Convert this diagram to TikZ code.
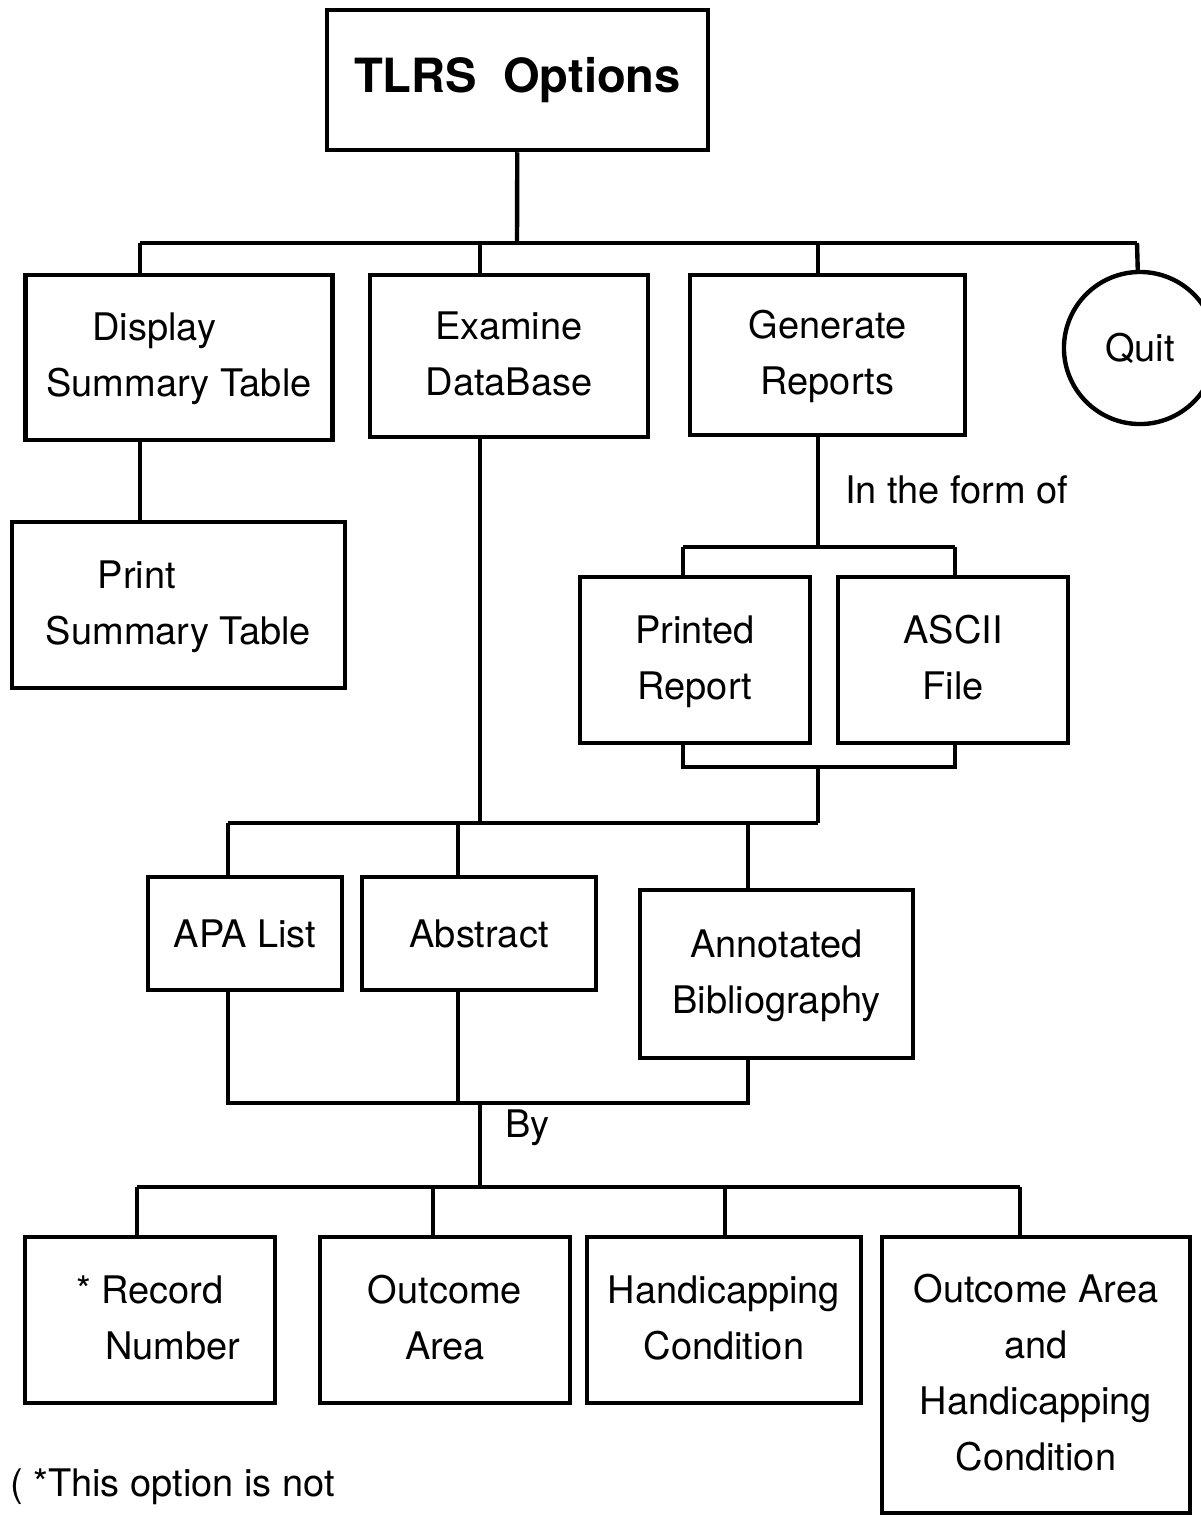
\documentclass[tikz,border=0pt]{standalone}
\usepackage{fontspec}
\setmainfont{TeX Gyre Heros}
\usetikzlibrary{positioning}
\newcommand{\optlines}[2]{%
    \begin{tabular}{c}
        #1\\
        #2
    \end{tabular}%
}
\newcommand{\Display}{\optlines{Display\hspace{1.3em}\mbox{}}{Summary Table}}
\newcommand{\Examine}{\optlines{Examine}{DataBase}}
\newcommand{\Generate}{\optlines{Generate}{Reports}}
\newcommand{\PrintTable}{\optlines{Print\hspace{2.2em}\mbox{}}{Summary Table}}
\newcommand{\Printed}{\optlines{Printed}{Report}}
\newcommand{\Ascii}{\optlines{ASCII}{File}}
\newcommand{\Annotated}{\optlines{Annotated}{Bibliography}}
\newcommand{\RecordNo}{\optlines{* Record}{\hspace{1.2em}Number}}
\newcommand{\Outcome}{\optlines{Outcome}{Area}}
\newcommand{\Handicap}{\optlines{Handicapping}{Condition}}
\newcommand{\Both}{%
    \begin{tabular}{c}
        Outcome Area\\
        and\\
        Handicapping\\
        Condition
    \end{tabular}%
}

\begin{document}
\begin{tikzpicture}[x=0.01cm, y=-0.01cm,
                    line width=1.25pt,
                    txt/.style={inner sep=0pt,
                        font=\fontsize{10.8}{15.9}\selectfont},
                    box/.style={txt, draw, rectangle}]

    \useasboundingbox (0,0) rectangle (1201,1517);

    % boxes
    \node[box, minimum width=3.81cm, minimum height=1.40cm,
          font=\bfseries\fontsize{13.4}{16}\selectfont] (title) at (517.5,80) {TLRS\hspace{0.55em}Options};
    \node[box, minimum width=3.02cm, minimum height=1.65cm] (disp) at (179,357.5) {\Display};
    \node[box, minimum width=2.78cm, minimum height=1.62cm] (exam) at (509,356) {\Examine};
    \node[box, minimum width=2.75cm, minimum height=1.60cm] (gen) at (827.5,355) {\Generate};
    \node[box, circle, minimum size=1.52cm] (quit) at (1140,348) {Quit};
    \node[box, minimum width=3.33cm, minimum height=1.66cm] (print) at (178.5,605) {\PrintTable};
    \node[box, minimum width=2.30cm, minimum height=1.66cm] (prep) at (695,660) {\Printed};
    \node[box, minimum width=2.30cm, minimum height=1.66cm] (ascii) at (953,660) {\Ascii};
    \node[box, minimum width=1.94cm, minimum height=1.13cm] (apa) at (245,933.5) {APA List};
    \node[box, minimum width=2.34cm, minimum height=1.13cm] (abs) at (479,933.5) {Abstract};
    \node[box, minimum width=2.73cm, minimum height=1.68cm] (annot) at (776.5,974) {\Annotated};
    \node[box, minimum width=2.50cm, minimum height=1.66cm] (rec) at (150,1320) {\RecordNo};
    \node[box, minimum width=2.50cm, minimum height=1.66cm] (oa) at (445,1320) {\Outcome};
    \node[box, minimum width=2.72cm, minimum height=1.66cm] (hc) at (724,1320) {\Handicap};
    \node[box, minimum width=3.08cm, minimum height=2.76cm] (oahc) at (1036,1375) {\Both};

    % labels
    \node[txt, anchor=west] (formlbl) at (843,490) {In the form of};
    \node[txt, anchor=west] (bylbl) at (503,1128) {By};
    \node[txt, anchor=west] (note) at (8,1487) {( *This option is not};

    % junctions
    \coordinate (j1) at (517,243);
    \coordinate (j1a) at (140,243);
    \coordinate (j1b) at (480,243);
    \coordinate (j1c) at (818,243);
    \coordinate (j1d) at (1137,243);
    \coordinate (j2) at (818,547);
    \coordinate (j2a) at (683,547);
    \coordinate (j2b) at (955,547);
    \coordinate (j3) at (818,767);
    \coordinate (j3a) at (683,767);
    \coordinate (j3b) at (955,767);
    \coordinate (j4) at (818,823);
    \coordinate (j4a) at (228,823);
    \coordinate (j4b) at (458,823);
    \coordinate (j4c) at (748,823);
    \coordinate (j5) at (480,1103);
    \coordinate (j5a) at (228,1103);
    \coordinate (j5c) at (748,1103);
    \coordinate (j6) at (480,1187);
    \coordinate (j6a) at (137,1187);
    \coordinate (j6b) at (433,1187);
    \coordinate (j6c) at (725,1187);
    \coordinate (j6d) at (1020,1187);

    % top level
    \draw (title) -- (j1);
    \draw (j1a) -- (j1d);
    \draw (j1a) -- (j1a |- disp.north);
    \draw (j1b) -- (j1b |- exam.north);
    \draw (j1c) -- (j1c |- gen.north);
    \draw (j1d) -- (quit);
    \draw (j1a |- disp.south) -- (j1a |- print.north);

    % reports
    \draw (j1c |- gen.south) -- (j2);
    \draw (j2a) -- (j2b);
    \draw (j2a) -- (j2a |- prep.north);
    \draw (j2b) -- (j2b |- ascii.north);
    \draw (j2a |- prep.south) -- (j3a) -- (j3b) -- (j2b |- ascii.south);
    \draw (j3) -- (j4);

    % formats
    \draw (j1b |- exam.south) -- (j1b |- j4);
    \draw (j4a) -- (j4);
    \draw (j4a) -- (j4a |- apa.north);
    \draw (j4b) -- (j4b |- abs.north);
    \draw (j4c) -- (j4c |- annot.north);
    \draw (j4a |- apa.south) -- (j5a) -- (j5c) -- (j4c |- annot.south);
    \draw (j4b |- abs.south) -- (j4b |- j5);
    \draw (j5) -- (j6);

    % sort orders
    \draw (j6a) -- (j6d);
    \draw (j6a) -- (j6a |- rec.north);
    \draw (j6b) -- (j6b |- oa.north);
    \draw (j6c) -- (j6c |- hc.north);
    \draw (j6d) -- (j6d |- oahc.north);

\end{tikzpicture}
\end{document}
